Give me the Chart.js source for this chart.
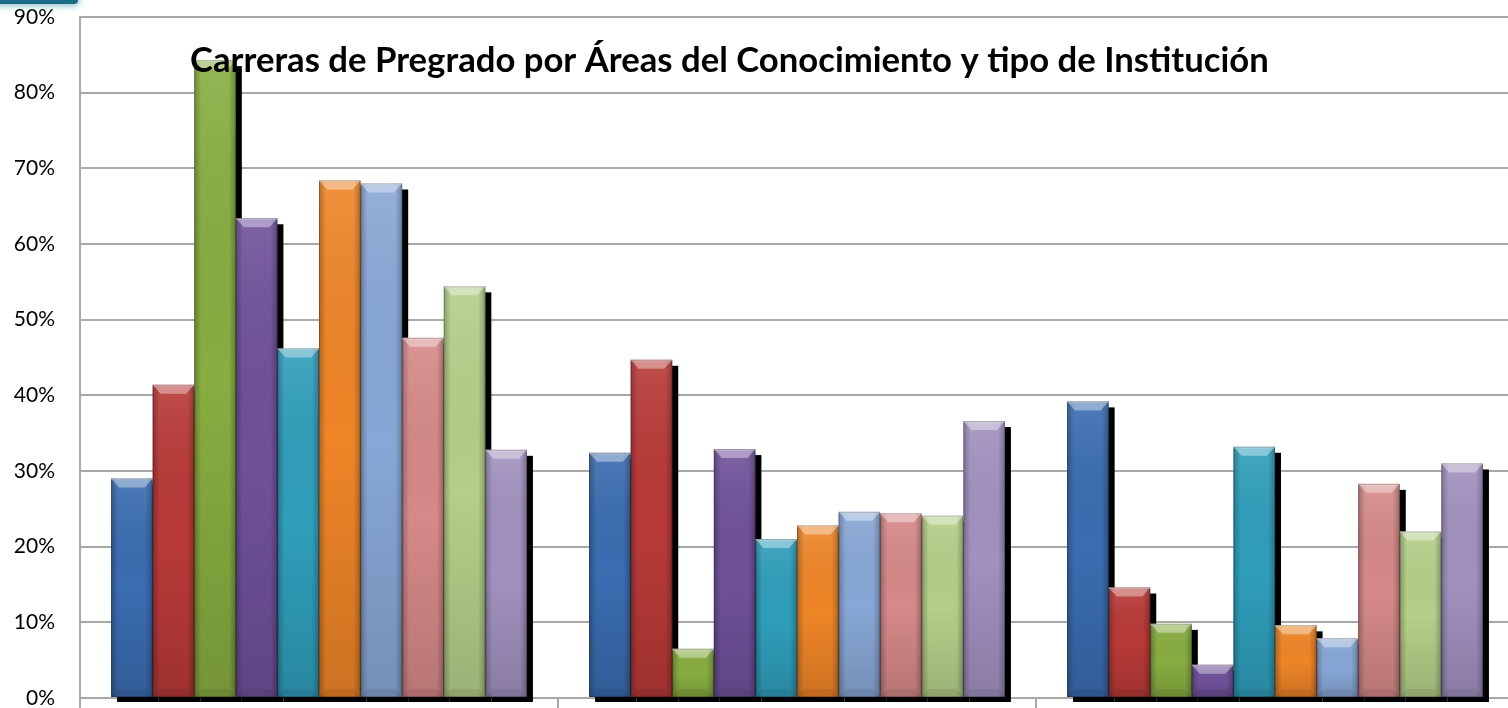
<!DOCTYPE html>
<html>
<head>
<meta charset="utf-8">
<script src="https://cdn.jsdelivr.net/npm/chart.js@4"></script>
<style>
  html, body { margin:0; padding:0; background:#fff; overflow:hidden; width:1508px; height:708px; }
  #wrap { position:relative; width:1516px; height:708px; }
  #deco { position:absolute; left:-8px; top:-12px; width:86px; height:16px; background:#1d6a86; border-radius:4px; box-shadow:0 0 6px 2px rgba(90,170,190,0.7); z-index:2; }
</style>
</head>
<body>
<div id="wrap">
  <div id="deco"></div>
  <canvas id="c" width="1516" height="708"></canvas>
</div>
<script>
// ---- data ----
const categories = ['Tipo 1', 'Tipo 2', 'Tipo 3'];
const seriesNames = ['Serie 1','Serie 2','Serie 3','Serie 4','Serie 5','Serie 6','Serie 7','Serie 8','Serie 9','Serie 10'];
const s1  = [29.0, 32.4, 39.2];
const s2  = [41.4, 44.7, 14.6];
const s3  = [84.3,  6.5,  9.8];
const s4  = [63.4, 32.9,  4.4];
const s5  = [46.2, 21.0, 33.2];
const s6  = [68.4, 22.8,  9.6];
const s7  = [68.0, 24.6,  7.9];
const s8  = [47.6, 24.4, 28.3];
const s9  = [54.4, 24.1, 22.0];
const s10 = [32.8, 36.6, 31.0];
const seriesValues = [s1,s2,s3,s4,s5,s6,s7,s8,s9,s10];
const yTicks = [0,10,20,30,40,50,60,70,80,90];
const titleText = 'Carreras de Pregrado por Áreas del Conocimiento y tipo de Institución';

const colors = ['#3a6cb0','#b83a37','#88ad41','#6f519a','#2f9ebb','#ee8527','#88a7d6','#d58988','#b4cf89','#a191bf'];

const datasets = seriesValues.map((vals, i) => ({
  label: seriesNames[i],
  data: vals,
  backgroundColor: colors[i],
  borderWidth: 0,
  categoryPercentage: 0.87,
  barPercentage: 1.0,
  clip: false
}));

const bevel = {
  id: 'bevel',
  beforeDatasetsDraw(chart) {
    const ctx = chart.ctx;
    ctx.save();
    ctx.fillStyle = '#000';
    chart.data.datasets.forEach((d, i) => {
      chart.getDatasetMeta(i).data.forEach(el => {
        const p = el.getProps(['x','y','base','width'], true);
        ctx.fillRect(p.x - p.width/2 + 6, p.y + 6, p.width, p.base - p.y - 6 + 5);
      });
    });
    ctx.restore();
  },
  afterDatasetsDraw(chart) {
    const ctx = chart.ctx;
    ctx.save();
    chart.data.datasets.forEach((d, i) => {
      chart.getDatasetMeta(i).data.forEach(el => {
        const p = el.getProps(['x','y','base','width'], true);
        const l = p.x - p.width/2, r = p.x + p.width/2, t = p.y, b = p.base;
        const h = b - t;
        let g = ctx.createLinearGradient(0, t, 0, b);
        g.addColorStop(0, 'rgba(255,255,255,0.10)');
        g.addColorStop(0.5, 'rgba(0,0,0,0.0)');
        g.addColorStop(1, 'rgba(0,0,0,0.14)');
        ctx.fillStyle = g; ctx.fillRect(l, t, r - l, h);
        let gl = ctx.createLinearGradient(l, 0, l + 7, 0);
        gl.addColorStop(0, 'rgba(0,0,0,0.25)'); gl.addColorStop(1, 'rgba(0,0,0,0)');
        ctx.fillStyle = gl; ctx.fillRect(l, t, 7, h);
        let gr = ctx.createLinearGradient(r, 0, r - 7, 0);
        gr.addColorStop(0, 'rgba(0,0,0,0.25)'); gr.addColorStop(1, 'rgba(0,0,0,0)');
        ctx.fillStyle = gr; ctx.fillRect(r - 7, t, 7, h);
        const ch = Math.min(9, h / 2);
        ctx.beginPath();
        ctx.moveTo(l, t); ctx.lineTo(r, t); ctx.lineTo(r - 8, t + ch); ctx.lineTo(l + 8, t + ch); ctx.closePath();
        ctx.fillStyle = 'rgba(255,255,255,0.38)'; ctx.fill();
        ctx.fillStyle = 'rgba(255,255,255,0.35)'; ctx.fillRect(l, t, r - l, 1.5);
        const bh = Math.min(8, h / 3);
        ctx.beginPath();
        ctx.moveTo(l, b); ctx.lineTo(r, b); ctx.lineTo(r - 7, b - bh); ctx.lineTo(l + 7, b - bh); ctx.closePath();
        ctx.fillStyle = 'rgba(0,0,0,0.07)'; ctx.fill();
        ctx.strokeStyle = 'rgba(0,0,0,0.22)'; ctx.lineWidth = 1;
        ctx.strokeRect(l + 0.5, t + 0.5, r - l - 1, h - 1);
      });
    });
    ctx.restore();
  },
  afterDraw(chart) {
    const ctx = chart.ctx;
    ctx.save();
    let size = 32;
    ctx.font = 'bold ' + size + 'px Lato';
    const w = ctx.measureText(titleText).width;
    size = size * 1079 / w;
    ctx.font = 'bold ' + size.toFixed(2) + 'px Lato';
    ctx.fillStyle = '#000';
    ctx.textBaseline = 'alphabetic';
    ctx.textAlign = 'left';
    ctx.fillText(titleText, 190, 72);
    ctx.restore();
  }
};

new Chart(document.getElementById('c'), {
  type: 'bar',
  data: { labels: categories, datasets },
  options: {
    responsive: false,
    animation: false,
    devicePixelRatio: 1,
    layout: { padding: { top: 17, left: 0, right: 2, bottom: 0 } },
    plugins: { legend: { display: false }, title: { display: false }, tooltip: { enabled: false } },
    scales: {
      x: {
        offset: true,
        afterFit(scale) { scale.height = 10; scale.paddingLeft = 0; scale.paddingRight = 0; },
        grid: { display: true, drawOnChartArea: false, drawTicks: true, tickLength: 10, color: '#a8a8a8', lineWidth: 2 },
        border: { display: true, color: '#a8a8a8', width: 2 },
        ticks: { display: false }
      },
      y: {
        min: 0, max: 90,
        afterFit(scale) { scale.width = 80; scale.paddingTop = 0; scale.paddingBottom = 0; },
        afterBuildTicks(scale) { scale.ticks = yTicks.map(v => ({ value: v })); },
        grid: { color: '#a8a8a8', lineWidth: 2, drawTicks: false },
        border: { display: true, color: '#a8a8a8', width: 2 },
        ticks: {
          padding: 25,
          color: '#000',
          font: { family: 'Lato', size: 21 },
          callback: v => v + '%'
        }
      }
    }
  },
  plugins: [bevel]
});
</script>
</body>
</html>
